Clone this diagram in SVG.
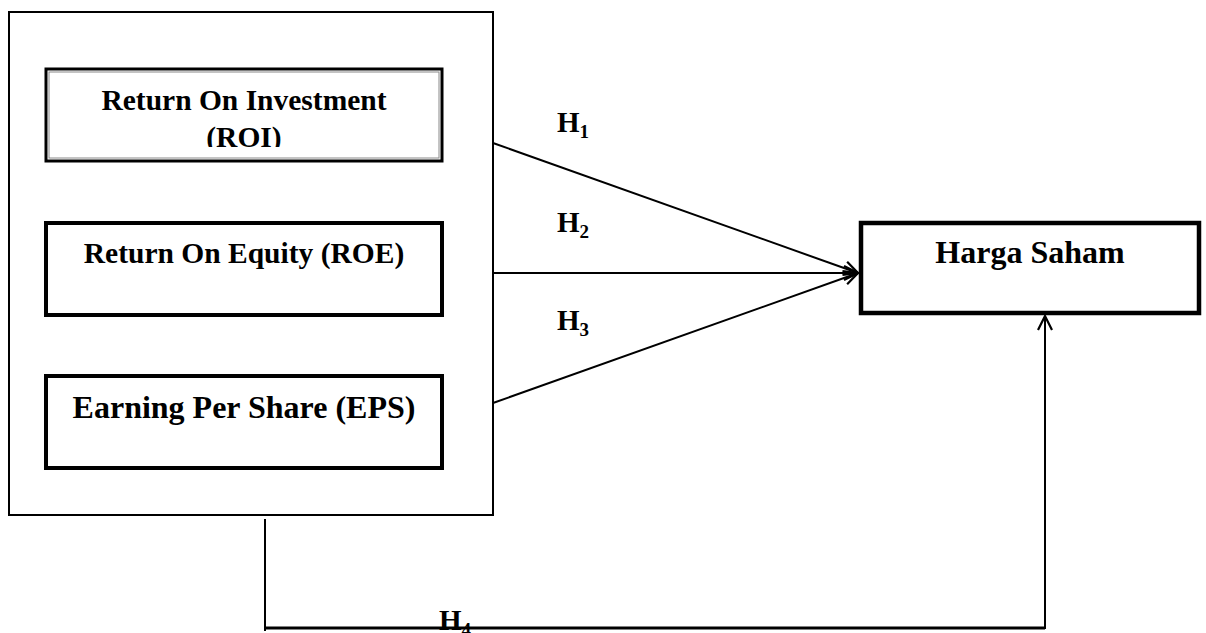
<svg xmlns="http://www.w3.org/2000/svg" width="1206" height="633" viewBox="0 0 1206 633">
<defs>
<style>
.t{font-family:"Liberation Serif","Times New Roman",serif;font-weight:bold;fill:#000}
.box{fill:#fff;stroke:#000;stroke-width:4}
.ln{fill:none;stroke:#000;stroke-width:2}
</style>
<marker id="arr" markerUnits="userSpaceOnUse" markerWidth="20" markerHeight="20" viewBox="0 0 20 20" refX="18" refY="10" orient="auto">
<path d="M4,3 L18,10 L4,17" fill="none" stroke="#000" stroke-width="2.2"/>
</marker>
<clipPath id="roiclip"><rect x="47" y="70" width="394" height="77"/></clipPath>
</defs>
<rect width="1206" height="633" fill="#fff"/>
<g id="outer">
<rect x="9" y="12" width="484" height="503" fill="none" stroke="#000" stroke-width="2"/>
</g>
<g id="roi">
<rect x="46" y="69" width="396" height="92" fill="#fff" stroke="#000" stroke-width="3"/>
<rect x="49" y="72" width="390" height="86" fill="none" stroke="#888" stroke-width="1"/>
<g clip-path="url(#roiclip)">
<text class="t" x="244" y="110" font-size="29.5" text-anchor="middle">Return On Investment</text>
<text class="t" x="244" y="147" font-size="29.5" text-anchor="middle">(ROI)</text>
</g>
</g>
<g id="roe">
<rect class="box" x="46" y="223" width="396" height="92"/>
<text class="t" x="244" y="263" font-size="29.5" text-anchor="middle">Return On Equity (ROE)</text>
</g>
<g id="eps">
<rect class="box" x="46" y="376" width="396" height="92"/>
<text class="t" x="244" y="418" font-size="32" text-anchor="middle">Earning Per Share (EPS)</text>
</g>
<g id="harga">
<rect x="861" y="223" width="338" height="90" fill="#fff" stroke="#000" stroke-width="4.5"/>
<text class="t" x="1030" y="263" font-size="32" text-anchor="middle">Harga Saham</text>
</g>
<g id="connectors">
<line class="ln" x1="493" y1="143" x2="858" y2="273" marker-end="url(#arr)"/>
<line class="ln" x1="493" y1="273" x2="858" y2="273" marker-end="url(#arr)"/>
<line class="ln" x1="493" y1="403" x2="858" y2="273" marker-end="url(#arr)"/>
<line class="ln" x1="265" y1="519" x2="265" y2="631"/>
<line x1="264" y1="628" x2="1045" y2="628" stroke="#000" stroke-width="3"/>
<line class="ln" x1="1045" y1="629" x2="1045" y2="316" marker-end="url(#arr)"/>
</g>
<g id="labels">
<text class="t" x="557" y="132" font-size="29">H<tspan font-size="19" dy="6">1</tspan></text>
<text class="t" x="557" y="232" font-size="29">H<tspan font-size="19" dy="6">2</tspan></text>
<text class="t" x="557" y="330" font-size="29">H<tspan font-size="19" dy="6">3</tspan></text>
<text class="t" x="439" y="630" font-size="29">H<tspan font-size="19" dy="6">4</tspan></text>
</g>
</svg>
